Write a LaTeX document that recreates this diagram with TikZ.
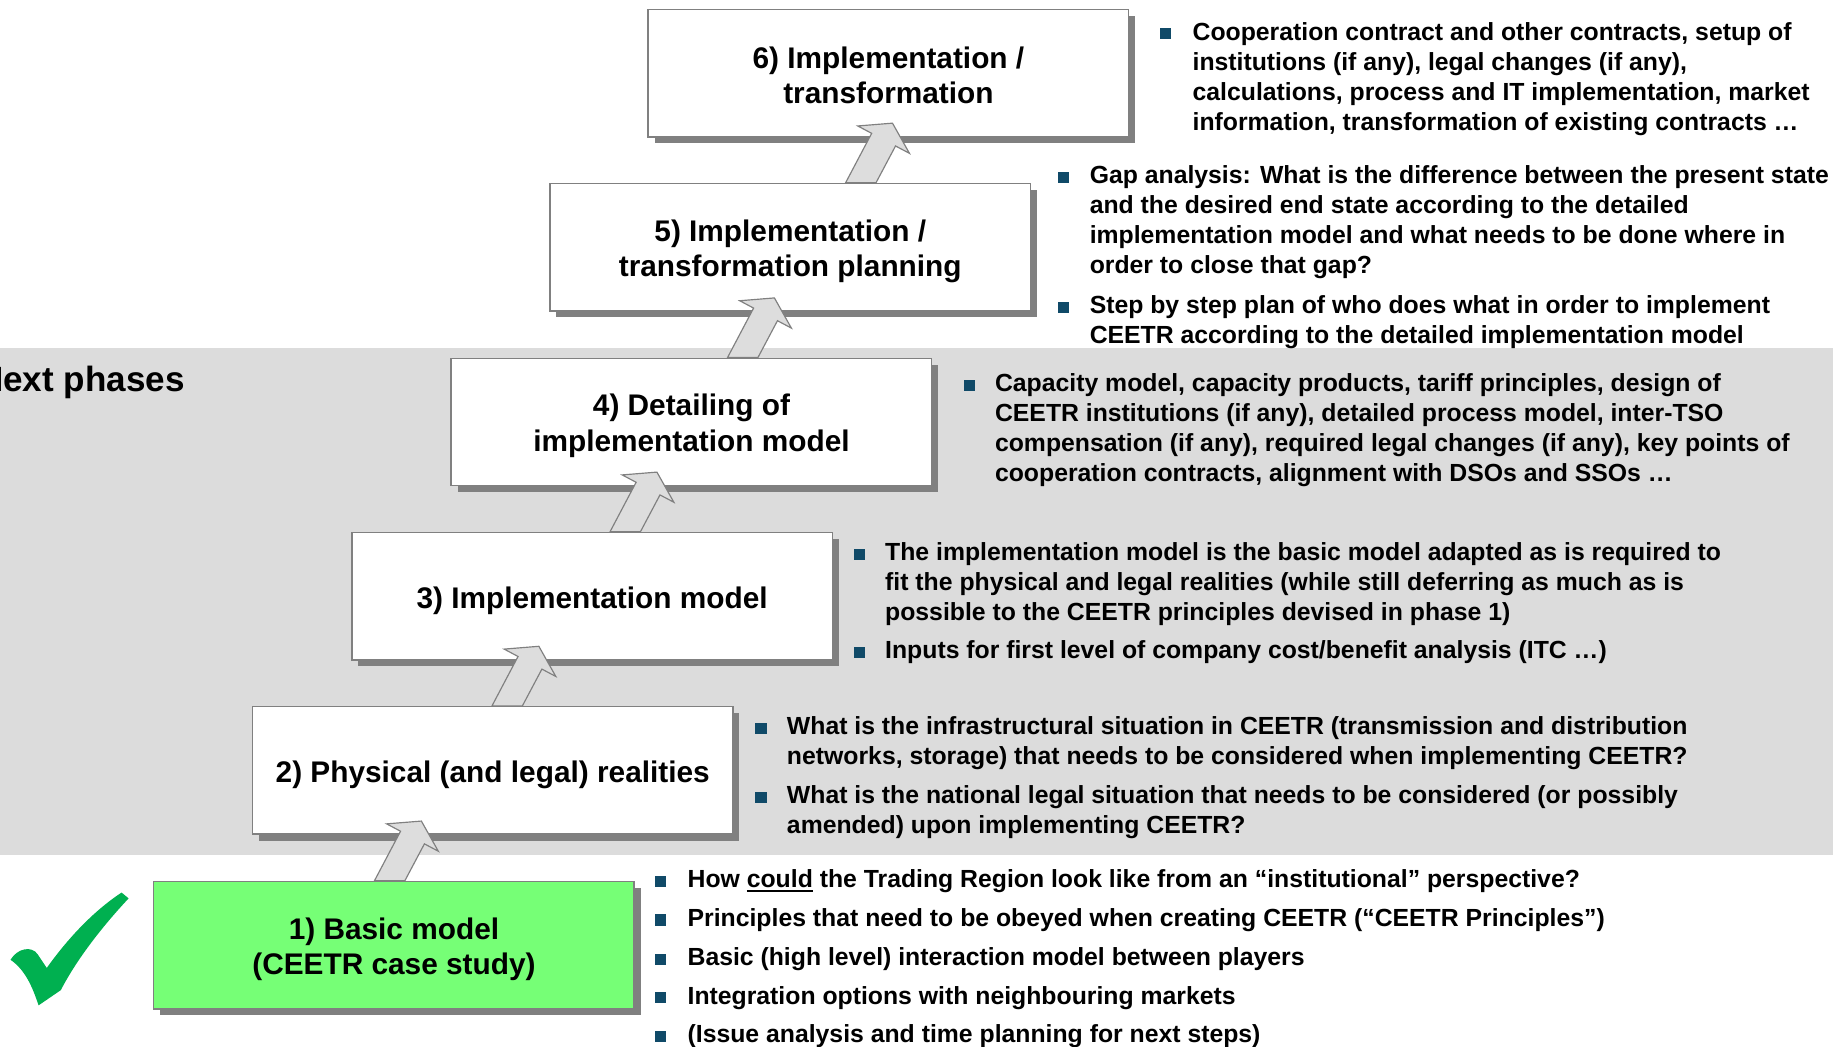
\documentclass[tikz,border=0pt]{standalone}
\usepackage{fontspec}
\setmainfont{Liberation Sans}
\usetikzlibrary{calc,shadows}
\definecolor{bandgray}{RGB}{220,220,220}
\definecolor{edgegray}{RGB}{128,128,128}
\definecolor{shgray}{RGB}{128,128,128}
\definecolor{arrgray}{RGB}{221,221,221}
\definecolor{boxgreen}{RGB}{118,255,118}
\definecolor{checkgreen}{RGB}{0,176,80}
\definecolor{bulblue}{RGB}{16,74,104}
\newsavebox\ulbox
\newcommand\myul[1]{\sbox\ulbox{#1}\rlap{\rule[-3.5pt]{\wd\ulbox}{1.8pt}}\usebox\ulbox}
\newcommand\btext[1]{\parbox[t]{900pt}{\fontsize{21.2}{25.7}\selectfont\bfseries #1}}
\tikzset{
  phasebox/.style={draw=edgegray, line width=1.3pt, fill=white,
    minimum width=411pt, minimum height=109pt, inner sep=0pt,
    drop shadow={shadow xshift=5.5pt, shadow yshift=-5.5pt, fill=shgray, opacity=1}},
  boxlabel/.style={inner sep=0pt, align=center, font=\fontsize{25.5}{30.5}\selectfont\bfseries},
  bsq/.style={fill=bulblue, minimum size=9.5pt, inner sep=0pt, draw=none},
  btxt/.style={anchor=base west, inner sep=0pt},
  phasearrow/.style={fill=arrgray, draw=edgegray, line width=1pt, line join=miter},
}
\begin{document}
\begin{tikzpicture}[x=1pt, y=-1pt]
\useasboundingbox (0,0) rectangle (1568,895);
\fill[white] (0,0) rectangle (1568,895);
% grey band
\fill[bandgray] (0,298) rectangle (1568,731);

% heading (cut at the left edge as in the original)
\node[anchor=base west, inner sep=0pt, font=\fontsize{30}{36}\selectfont\bfseries] (np) at (-19,335) {Next phases};

% check mark
\fill[checkgreen] (9,821) .. controls (15,811) and (27,809) .. (32,816) -- (40,828)
  .. controls (60,800) and (82,778) .. (104,763.5) -- (110,768.5)
  .. controls (88,792) and (66,820) .. (52,847) -- (33,860)
  .. controls (28,845) and (22,830) .. (9,821) -- cycle;

% phase boxes
\node[phasebox] (b6) at (760,62.5) {};
\node[phasebox] (b5) at (676,211.5) {};
\node[phasebox] (b4) at (591.5,361) {};
\node[phasebox] (b3) at (506.5,510) {};
\node[phasebox] (b2) at (421.5,659) {};
\node[phasebox, fill=boxgreen] (b1) at (337,808.5) {};

\node[boxlabel] (l6) at ($(b6.center)+(0,2)$) {6) Implementation /\\transformation};
\node[boxlabel] (l5) at ($(b5.center)+(0,3.5)$) {5) Implementation /\\transformation planning};
\node[boxlabel] (l4) at ($(b4.center)+(0,3.5)$) {4) Detailing of\\implementation model};
\node[boxlabel] (l3) at ($(b3.center)+(0,3.5)$) {3) Implementation model};
\node[boxlabel] (l2) at ($(b2.center)+(0,3.5)$) {2) Physical (and legal) realities};
\node[boxlabel] (l1) at ($(b1.center)+(0,3.5)$) {1) Basic model\\(CEETR case study)};

% arrow tails on the lower boxes
\coordinate (t12) at ($(b1.north west)+(202.5,0)$);
\coordinate (t23) at ($(b2.north west)+(218.5,0)$);
\coordinate (t34) at ($(b3.north west)+(234.5,0)$);
\coordinate (t45) at ($(b4.north west)+(250,0)$);
\coordinate (t56) at ($(b5.north west)+(266.5,0)$);
\foreach \t in {t12,t23,t34,t45,t56}{
  \draw[phasearrow, shift={(\t)}] (-13,0) -- (13,0) -- (29.7,-31.5) -- (41.6,-25.2)
    -- (27.1,-51) -- (-2.6,-48.6) -- (9.3,-42.3) -- cycle;
}

% bullets box 6
\node[bsq] (s6a) at (997,29) {};
\node[btxt] (x6a) at (1020,34.5) {\btext{Cooperation contract and other contracts, setup of\\institutions (if any), legal changes (if any),\\calculations, process and IT implementation, market\\information, transformation of existing contracts …}};

% bullets box 5
\node[bsq] (s5a) at (910,151.5) {};
\node[btxt] (x5a) at (932,157) {\btext{Gap analysis: What is the difference between the present state\\and the desired end state according to the detailed\\implementation model and what needs to be done where in\\order to close that gap?}};
\node[bsq] (s5b) at (910,263) {};
\node[btxt] (x5b) at (932,268.5) {\btext{Step by step plan of who does what in order to implement\\CEETR according to the detailed implementation model}};

% bullets box 4
\node[bsq] (s4a) at (829,329.5) {};
\node[btxt] (x4a) at (851,335) {\btext{Capacity model, capacity products, tariff principles, design of\\CEETR institutions (if any), detailed process model, inter-TSO\\compensation (if any), required legal changes (if any), key points of\\cooperation contracts, alignment with DSOs and SSOs …}};

% bullets box 3
\node[bsq] (s3a) at (735,474) {};
\node[btxt] (x3a) at (757,479.5) {\btext{The implementation model is the basic model adapted as is required to\\fit the physical and legal realities (while still deferring as much as is\\possible to the CEETR principles devised in phase 1)}};
\node[bsq] (s3b) at (735,558) {};
\node[btxt] (x3b) at (757,563.5) {\btext{Inputs for first level of company cost/benefit analysis (ITC …)}};

% bullets box 2
\node[bsq] (s2a) at (651,623) {};
\node[btxt] (x2a) at (673,628.5) {\btext{What is the infrastructural situation in CEETR (transmission and distribution\\networks, storage) that needs to be considered when implementing CEETR?}};
\node[bsq] (s2b) at (651,682) {};
\node[btxt] (x2b) at (673,687.5) {\btext{What is the national legal situation that needs to be considered (or possibly\\amended) upon implementing CEETR?}};

% bullets box 1
\node[bsq] (s1a) at (565,754) {};
\node[btxt] (x1a) at (588,759.5) {\btext{How \myul{could} the Trading Region look like from an “institutional” perspective?}};
\node[bsq] (s1b) at (565,787) {};
\node[btxt] (x1b) at (588,792.5) {\btext{Principles that need to be obeyed when creating CEETR (“CEETR Principles”)}};
\node[bsq] (s1c) at (565,820.5) {};
\node[btxt] (x1c) at (588,826) {\btext{Basic (high level) interaction model between players}};
\node[bsq] (s1d) at (565,853.5) {};
\node[btxt] (x1d) at (588,859) {\btext{Integration options with neighbouring markets}};
\node[bsq] (s1e) at (565,886.5) {};
\node[btxt] (x1e) at (588,892) {\btext{(Issue analysis and time planning for next steps)}};
\end{tikzpicture}
\end{document}
